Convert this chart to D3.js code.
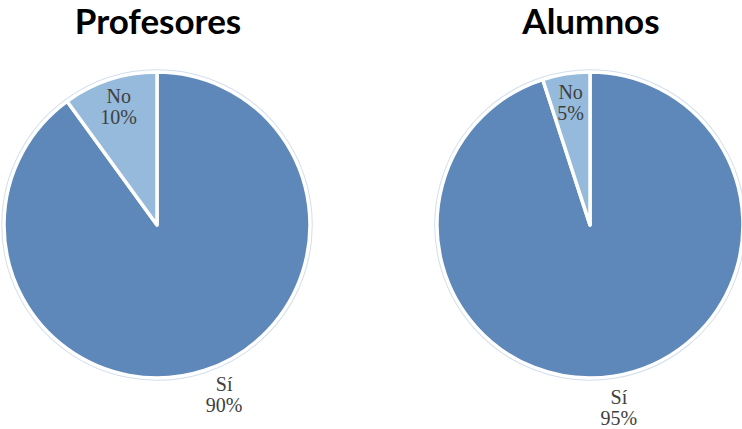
<!DOCTYPE html>
<html>
<head>
<meta charset="utf-8">
<script src="https://cdn.jsdelivr.net/npm/d3@7"></script>
<style>
  html, body { margin: 0; padding: 0; background: #ffffff; }
  svg { display: block; }
</style>
</head>
<body>
<svg id="chart" width="742" height="429"></svg>
<script>
// Survey answers, in percent
const categories = ["Sí", "No"];
const titles = ["Profesores", "Alumnos"];
const profesoresValues = [90, 10];
const alumnosValues = [95, 5];

const colors = { "Sí": "#5f88ba", "No": "#95badb" };

const svg = d3.select("#chart");

const panels = [
  { title: titles[0], values: profesoresValues, cx: 157, outNudge: [10, -6] },
  { title: titles[1], values: alumnosValues, cx: 590, outNudge: [0, 0] }
];
const cy = 225;
const radius = 153;

const pie = d3.pie().sort(null).value(d => d.value);
const arc = d3.arc().innerRadius(0).outerRadius(radius);
const inLabelArc = d3.arc().innerRadius(124).outerRadius(124);
const outLabelArc = d3.arc().innerRadius(185).outerRadius(185);

const labelFont = "'Liberation Serif', 'Times New Roman', 'DejaVu Serif', serif";

panels.forEach(p => {
  const data = categories.map((c, i) => ({ cat: c, value: p.values[i] }));
  const arcs = pie(data);
  const g = svg.append("g").attr("transform", `translate(${p.cx},${cy})`);

  // soft outer rim
  g.append("circle")
    .attr("r", radius + 1.5)
    .attr("fill", "none")
    .attr("stroke", "#cfdcec")
    .attr("stroke-width", 1);

  // bevel edge, then the white separator on top
  g.selectAll("path.edge")
    .data(arcs)
    .join("path")
    .attr("class", "edge")
    .attr("d", arc)
    .attr("fill", "none")
    .attr("stroke", "#d3dfee")
    .attr("stroke-width", 5.5)
    .attr("stroke-linejoin", "round");

  g.selectAll("path.slice")
    .data(arcs)
    .join("path")
    .attr("class", "slice")
    .attr("d", arc)
    .attr("fill", d => colors[d.data.cat])
    .attr("stroke", "#ffffff")
    .attr("stroke-width", 3.5)
    .attr("stroke-linejoin", "round");

  // data labels: category and percentage on two lines
  arcs.forEach(d => {
    const inside = d.data.cat === "No";
    const c = inside ? inLabelArc.centroid(d) : outLabelArc.centroid(d);
    const x = c[0] + (inside ? 0 : p.outNudge[0]);
    const y = c[1] + (inside ? 0 : p.outNudge[1]);
    const t = g.append("text")
      .attr("x", x)
      .attr("y", y)
      .attr("text-anchor", "middle")
      .attr("font-family", labelFont)
      .attr("font-size", 20)
      .attr("fill", "#404040");
    t.append("tspan").attr("x", x).attr("dy", "-0.2em").text(d.data.cat);
    t.append("tspan").attr("x", x).attr("dy", "1.05em").text(d.data.value + "%");
  });

  // panel title
  svg.append("text")
    .attr("x", p.cx + 1)
    .attr("y", 34)
    .attr("text-anchor", "middle")
    .attr("font-family", "Lato, 'Open Sans', sans-serif")
    .attr("font-weight", "bold")
    .attr("font-size", 35)
    .attr("fill", "#000000")
    .text(p.title);
});
</script>
</body>
</html>
